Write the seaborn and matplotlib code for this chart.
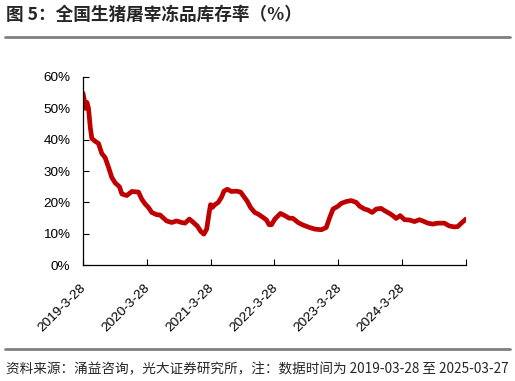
import matplotlib
matplotlib.use("Agg")
import matplotlib.pyplot as plt
import matplotlib.transforms as mtransforms
from matplotlib.lines import Line2D
import pandas as pd
import seaborn as sns

dates = [
    "2019-03-28", "2019-04-05", "2019-04-10", "2019-04-20", "2019-04-29", "2019-05-09",
    "2019-05-18", "2019-06-06", "2019-06-25", "2019-07-14", "2019-08-02", "2019-08-21",
    "2019-09-09", "2019-09-29", "2019-10-23", "2019-11-06", "2019-12-04", "2020-01-02",
    "2020-02-09", "2020-02-28", "2020-03-18", "2020-04-06", "2020-04-25", "2020-05-23",
    "2020-06-11", "2020-06-27", "2020-07-19", "2020-08-17", "2020-09-14", "2020-10-13",
    "2020-11-01", "2020-11-26", "2020-12-19", "2021-01-10", "2021-01-31", "2021-02-17",
    "2021-03-05", "2021-03-18", "2021-03-27", "2021-04-06", "2021-04-21", "2021-05-10",
    "2021-05-29", "2021-06-12", "2021-07-01", "2021-07-25", "2021-08-23", "2021-09-15",
    "2021-10-06", "2021-10-23", "2021-11-11", "2021-12-05", "2021-12-24", "2022-01-22",
    "2022-02-10", "2022-02-25", "2022-03-11", "2022-03-30", "2022-05-01", "2022-05-26",
    "2022-06-19", "2022-07-12", "2022-08-10", "2022-09-07", "2022-10-15", "2022-11-13",
    "2022-12-21", "2023-01-18", "2023-02-07", "2023-02-26", "2023-03-26", "2023-04-14",
    "2023-05-13", "2023-06-10", "2023-07-09", "2023-07-28", "2023-08-25", "2023-09-13",
    "2023-10-08", "2023-10-31", "2023-11-28", "2023-12-17", "2024-01-15", "2024-02-03",
    "2024-02-22", "2024-03-16", "2024-04-10", "2024-05-08", "2024-06-06", "2024-07-04",
    "2024-07-23", "2024-08-21", "2024-09-18", "2024-10-17", "2024-11-24", "2024-12-22",
    "2025-01-20", "2025-02-08", "2025-02-27", "2025-03-27",
]
rate = [
    54.9, 52.7, 50.0, 51.9, 50.0, 44.0,
    40.4, 39.5, 38.8, 35.6, 34.3, 31.3,
    28.0, 26.2, 25.0, 22.7, 22.2, 23.5,
    23.3, 21.0, 19.5, 18.4, 16.8, 16.1,
    16.0, 15.2, 14.1, 13.6, 14.1, 13.6,
    13.4, 14.7, 13.6, 12.5, 10.7, 9.9,
    11.5, 16.3, 19.3, 18.4, 19.3, 20.0,
    21.7, 23.6, 24.2, 23.5, 23.6, 23.3,
    21.7, 20.4, 18.4, 16.8, 16.3, 15.2,
    14.4, 12.9, 12.9, 14.7, 16.5, 15.8,
    15.0, 14.9, 13.6, 12.8, 12.0, 11.5,
    11.3, 12.0, 15.2, 17.9, 18.8, 19.7,
    20.3, 20.6, 20.0, 18.8, 17.9, 17.6,
    16.8, 17.9, 18.1, 17.4, 16.5, 15.8,
    14.9, 15.8, 14.5, 14.4, 13.9, 14.5,
    14.1, 13.4, 13.1, 13.4, 13.4, 12.5,
    12.2, 12.3, 13.3, 14.7,
]
tick_dates = ["2019-03-28", "2020-03-28", "2021-03-28", "2022-03-28",
              "2023-03-28", "2024-03-28", "2025-03-28"]
tick_labels = ["2019-3-28", "2020-3-28", "2021-3-28", "2022-3-28",
               "2023-3-28", "2024-3-28", ""]
y_ticks = [0, 10, 20, 30, 40, 50, 60]

title = "图 5：全国生猪屠宰冻品库存率（%）"
source = "资料来源：涌益咨询，光大证券研究所，注：数据时间为 2019-03-28 至 2025-03-27"

sns.set_style("ticks")
plt.rcParams["font.family"] = ["Liberation Sans", "DejaVu Sans"]
cjk = ["Noto Sans CJK SC", "DejaVu Sans"]

df = pd.DataFrame({"date": pd.to_datetime(dates), "rate": rate})

fig = plt.figure(figsize=(5.15, 3.81), dpi=100)
ax = fig.add_axes([0.161, 0.304, 0.744, 0.494])

sns.lineplot(data=df, x="date", y="rate", ax=ax, color="#C00000", linewidth=3.4)

# axes styling
ax.set_xlim(pd.Timestamp(tick_dates[0]), pd.Timestamp(tick_dates[-1]))
ax.set_ylim(0, 60)
ax.set_yticks(y_ticks)
ax.set_yticklabels([f"{v}%" for v in y_ticks], fontsize=9.7)
ax.set_xticks(pd.to_datetime(tick_dates))
ax.set_xticklabels(tick_labels, rotation=45, ha="right", rotation_mode="anchor", fontsize=9.7)
ax.tick_params(direction="in", length=4, width=0.8, colors="black")
ax.tick_params(axis="y", pad=9)
ax.tick_params(axis="x", pad=12)
shift = mtransforms.ScaledTranslation(-3 / 100, 0, fig.dpi_scale_trans)
for lab in ax.get_xticklabels():
    lab.set_transform(lab.get_transform() + shift)
ax.set_xlabel("")
ax.set_ylabel("")
for s in ["top", "right"]:
    ax.spines[s].set_visible(False)
for s in ["left", "bottom"]:
    ax.spines[s].set_linewidth(0.9)
    ax.spines[s].set_color("black")

# title, separators and source note
fig.text(0.012, 0.962, title, fontsize=12.7, fontweight="bold", family=cjk, va="center")
fig.add_artist(Line2D([0.01, 0.99], [0.903, 0.903], color="#808080", linewidth=2))
fig.add_artist(Line2D([0.01, 0.99], [0.085, 0.085], color="#808080", linewidth=2))
fig.text(0.012, 0.031, source, fontsize=9.8, family=cjk, va="center")

fig.savefig("out.png", dpi=100)
